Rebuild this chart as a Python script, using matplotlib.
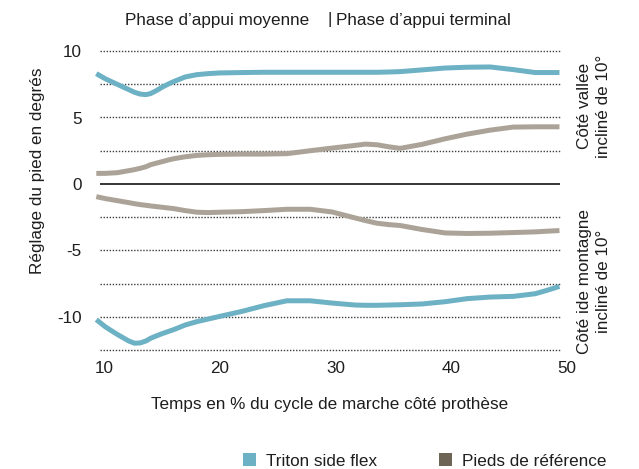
import matplotlib
matplotlib.use("Agg")
import matplotlib.pyplot as plt
from matplotlib.patches import Patch

plt.rcParams['font.family'] = ['Liberation Sans', 'DejaVu Sans']

# ---- data ----
x = [9.3, 10.1, 11.1, 12.1, 12.6, 13.1, 13.6, 14.0, 14.5, 15.0, 15.5, 16.0, 17.0, 18.0, 19.0, 20.0,
     21.9, 23.8, 25.8, 27.8, 29.7, 31.7, 32.6, 33.6, 34.6, 35.6, 37.5, 39.5,
     41.4, 43.4, 45.4, 47.3, 48.3, 49.4]

triton_valley = [8.3, 7.9, 7.5, 7.1, 6.9, 6.76, 6.72, 6.8, 7.02, 7.28, 7.5, 7.7, 8.05, 8.22, 8.3, 8.35,
                 8.38, 8.4, 8.4, 8.4, 8.4, 8.4, 8.4, 8.4, 8.42, 8.45, 8.58, 8.72,
                 8.78, 8.8, 8.6, 8.38, 8.38, 8.38]

ref_valley = [0.8, 0.8, 0.85, 1.0, 1.08, 1.18, 1.3, 1.45, 1.57, 1.68, 1.8, 1.9, 2.05, 2.15, 2.2, 2.23,
              2.25, 2.25, 2.28, 2.5, 2.7, 2.9, 3.0, 2.95, 2.8, 2.68, 2.98, 3.4,
              3.75, 4.05, 4.28, 4.3, 4.3, 4.3]

ref_mountain = [-0.95, -1.1, -1.25, -1.4, -1.48, -1.55, -1.6, -1.65, -1.7, -1.75, -1.8, -1.85, -2.0, -2.12, -2.15, -2.12,
                -2.08, -2.0, -1.9, -1.9, -2.1, -2.55, -2.75, -2.95, -3.05, -3.12, -3.42, -3.68,
                -3.72, -3.7, -3.65, -3.6, -3.55, -3.5]

triton_mountain = [-10.2, -10.75, -11.3, -11.8, -11.97, -11.95, -11.8, -11.6, -11.42, -11.25, -11.1, -10.95, -10.6, -10.35, -10.15, -9.95,
                   -9.58, -9.15, -8.78, -8.78, -8.95, -9.1, -9.12, -9.12, -9.1, -9.08, -9.02, -8.85,
                   -8.62, -8.5, -8.45, -8.25, -8.0, -7.7]

x_ticks = [10, 20, 30, 40, 50]
y_ticks = [10, 5, 0, -5, -10]
grid_levels = [10, 7.5, 5, 2.5, -2.5, -5, -7.5, -10, -12.5]

series_labels = ["Triton side flex", "Pieds de référence"]
phase_labels = ["Phase d’appui moyenne", "Phase d’appui terminal"]
side_labels = ["Côté vallée\nincliné de 10°", "Côté ide montagne\nincliné de 10°"]

BLUE = "#6db1c4"
GRAY = "#aca398"
BROWN = "#6e6456"
TXT = "#1e1e1e"
FS = 12.3

W, H = 639, 469
fig = plt.figure(figsize=(W / 100, H / 100), dpi=100)
ax = fig.add_axes([94.0 / W, 1 - 356.9 / H, 472.4 / W, 312.55 / H])
ax.set_xlim(9.1, 50.0)
ax.set_ylim(-13, 10.5)
for s in ax.spines.values():
    s.set_visible(False)

gx0, gx1 = 9.62, 49.45
for g in grid_levels:
    ax.hlines(g, gx0, gx1, colors="#3c3c3c", linewidth=1.0,
              linestyles=(0, (1, 1.2)), zorder=1)
ax.hlines(0, gx0, gx1, colors="black", linewidth=1.1, zorder=1)

lw = 3.6
ax.plot(x, triton_valley, color=BLUE, lw=lw, zorder=3, solid_capstyle="butt", solid_joinstyle="round")
ax.plot(x, triton_mountain, color=BLUE, lw=lw, zorder=3, solid_capstyle="butt", solid_joinstyle="round")
ax.plot(x, ref_valley, color=GRAY, lw=lw, zorder=2, solid_capstyle="butt", solid_joinstyle="round")
ax.plot(x, ref_mountain, color=GRAY, lw=lw, zorder=2, solid_capstyle="butt", solid_joinstyle="round")

ax.set_xticks(x_ticks)
ax.set_xticklabels([str(v) for v in x_ticks])
ax.set_yticks(y_ticks)
ax.set_yticklabels([str(v) for v in y_ticks])
ax.tick_params(axis="both", length=0, labelsize=FS, colors=TXT)
ax.tick_params(axis="y", pad=9)
ax.tick_params(axis="x", pad=3)

fig.text(330 / W, 1 - 404 / H, "Temps en % du cycle de marche côté prothèse",
         ha="center", va="center", fontsize=FS, color=TXT)
fig.text(38 / W, 1 - 171 / H, "Réglage du pied en degrés", rotation=90,
         ha="center", va="center", fontsize=FS, color=TXT)

fig.text(125 / W, 1 - 20 / H, phase_labels[0], ha="left", va="center",
         fontsize=FS, color=TXT)
fig.text(329.5 / W, 1 - 19.5 / H, "|", ha="center", va="center",
         fontsize=FS, color=TXT)
fig.text(336 / W, 1 - 20 / H, phase_labels[1], ha="left", va="center",
         fontsize=FS, color=TXT)

fig.text(594 / W, 1 - 106 / H, side_labels[0], rotation=90, ha="center",
         va="center", multialignment="center", fontsize=FS, color=TXT,
         linespacing=1.3)
fig.text(594 / W, 1 - 281 / H, side_labels[1], rotation=90, ha="center",
         va="center", multialignment="center", fontsize=FS, color=TXT,
         linespacing=1.3)

handles = [Patch(facecolor=BLUE, edgecolor="none", label=series_labels[0]),
           Patch(facecolor=BROWN, edgecolor="none", label=series_labels[1])]
leg = fig.legend(handles=handles, loc="center left",
                 bbox_to_anchor=(243 / W, 1 - 461 / H), ncol=2, frameon=False,
                 fontsize=FS, handlelength=0.75, handleheight=0.75,
                 handletextpad=0.6, columnspacing=3.6, borderpad=0,
                 borderaxespad=0)
for t in leg.get_texts():
    t.set_color(TXT)

fig.savefig("out.png", dpi=100)
